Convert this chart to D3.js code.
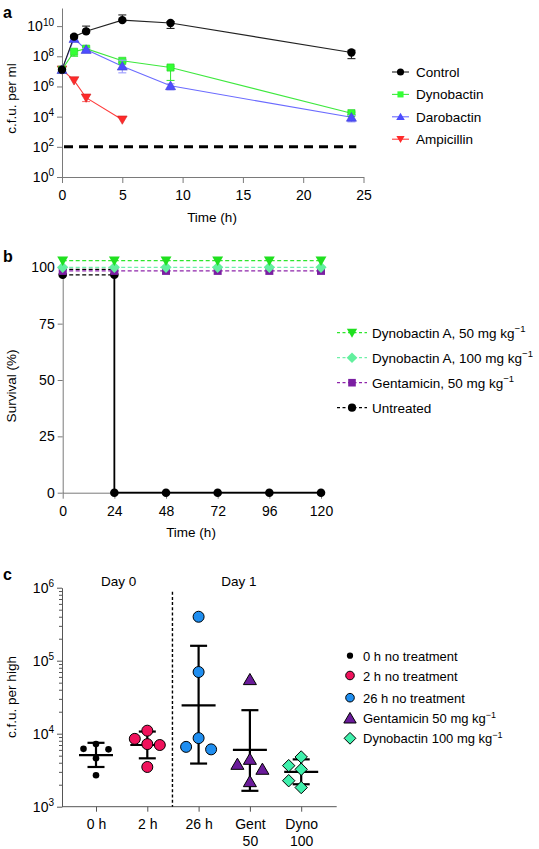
<!DOCTYPE html>
<html><head><meta charset="utf-8">
<script src="https://cdn.jsdelivr.net/npm/d3@7"></script>
<style>
html,body{margin:0;padding:0;background:#fff;}
svg{display:block;font-family:"Liberation Sans",Arial,Helvetica,sans-serif;}
</style></head>
<body>
<svg id="chart" width="539" height="849"></svg>
<script>
// ---------- Panel a data ----------
const aTimes = [0, 1, 2, 5, 9, 24];
const ampTimes = [0, 1, 2, 5];
const ctrlVals = [1.3e7, 2e9, 4.5e9, 2.5e10, 1.6e10, 1.8e8];
const ctrlLo   = [null, 1.6e9, 3.5e9, 2e10, 7e9, 7e7];
const ctrlHi   = [null, 2.5e9, 1e10, 5.5e10, 2e10, 2.5e8];
const dynoVals = [1.3e7, 2e8, 3.2e8, 5e7, 1.8e7, 1.7e4];
const dynoLo   = [null, 1e8, 2.5e8, 4e7, 2.5e6, 1.4e4];
const dynoHi   = [null, 2.6e8, 4e8, 6e7, 2.2e7, 2e4];
const daroVals = [1.3e7, 1.5e9, 2.8e8, 2.2e7, 1.1e6, 9e3];
const daroLo   = [null, 1.2e9, 2.3e8, 8e6, 6e5, 4.5e3];
const daroHi   = [null, 1.8e9, 3.3e8, 5.5e7, 1.5e6, 1.2e4];
const ampVals  = [1.3e7, 2.5e6, 1.8e5, 6.3e3];
const ampLo    = [null, null, 1e5, null];
const ampHi    = [null, null, 2.5e5, null];
const detectionLimit = 100;
const aYTicks = [1, 1e2, 1e4, 1e6, 1e8, 1e10];
const aXTicks = [0, 5, 10, 15, 20, 25];
const aNames = ["Control", "Dynobactin", "Darobactin", "Ampicillin"];

// ---------- Panel b data ----------
const bTimes = [0, 24, 48, 72, 96, 120];
const dyno50Surv  = [100, 100, 100, 100, 100, 100];
const dyno100Surv = [100, 100, 100, 100, 100, 100];
const gentSurv    = [100, 100, 100, 100, 100, 100];
const untreatedTimes = [0, 24, 24, 48, 72, 96, 120];
const untreatedSurv  = [100, 100, 0, 0, 0, 0, 0];
const bYTicks = [0, 25, 50, 75, 100];
const bXTicks = [0, 24, 48, 72, 96, 120];
const bNames = ["Dynobactin A, 50 mg kg", "Dynobactin A, 100 mg kg", "Gentamicin, 50 mg kg", "Untreated"];
const bSup = ["−1", "−1", "−1", ""];

// ---------- Panel c data ----------
const cCats = ["0 h", "2 h", "26 h", "Gent\n50", "Dyno\n100"];
const c0h   = [6200, 7200, 6100, 4600, 2700];
const c2h   = [8500, 11000, 7000, 7200, 3500];
const c26h  = [400000, 70000, 8700, 6100, 6600];
const cGent = [55000, 3800, 4450, 3250, 2200];
const cDyno = [4800, 3650, 3250, 2270, 1830];
const cMean = [5100, 7000, 24500, 6000, 3000];
const cLo   = [3500, 4600, 3900, 1650, 2030];
const cHi   = [7500, 10700, 160000, 21000, 4450];
const cYTicks = [1e3, 1e4, 1e5, 1e6];
const cNames = ["0 h no treatment", "2 h no treatment", "26 h no treatment", "Gentamicin 50 mg kg", "Dynobactin 100 mg kg"];
const cSup = ["", "", "", "−1", "−1"];

// ---------- helpers ----------
const svg = d3.select("#chart");
const FS = 13.5;   // legend / title text
const TS = 14;     // tick labels
const AX = "#7a7a7a";

function shape(type, s) {
  switch (type) {
    case "circle": return `M${-s},0a${s},${s} 0 1,0 ${2*s},0a${s},${s} 0 1,0 ${-2*s},0Z`;
    case "square": return `M${-s},${-s}h${2*s}v${2*s}h${-2*s}Z`;
    case "tri":    return `M0,${-s}L${s*1.05},${s*0.8}L${-s*1.05},${s*0.8}Z`;
    case "trid":   return `M0,${s}L${s*1.05},${-s*0.8}L${-s*1.05},${-s*0.8}Z`;
    case "diamond":return `M0,${-s}L${s},0L0,${s}L${-s},0Z`;
  }
}
function supText(sel, base, sup, supSize) {
  sel.text(base);
  if (sup !== "" && sup != null) sel.append("tspan").attr("dy", "-0.55em").attr("font-size", supSize || 9).text(sup);
}
function styleAxis(g, color, width) {
  g.attr("font-size", TS).attr("font-family", null);
  g.selectAll("path,line").attr("stroke", color).attr("stroke-width", width || 1);
  g.selectAll("text").attr("fill", "#000").attr("font-size", TS);
}

// ---------- Panel a ----------
const xa = d3.scaleLinear().domain([0, 25]).range([62, 363.5]);
const ya = d3.scaleLog().domain([1, Math.pow(10, 11.2)]).range([177, 8]);
const ga = svg.append("g");

ga.append("text").attr("x", 3).attr("y", 18).attr("font-size", 16).attr("font-weight", "bold").text("a");

const gaY = ga.append("g").attr("transform", `translate(${xa(0)},0)`)
  .call(d3.axisLeft(ya).tickValues(aYTicks).tickSize(5).tickSizeOuter(0).tickFormat(() => ""));
styleAxis(gaY, AX);
gaY.selectAll(".tick text").each(function (d) {
  supText(d3.select(this), "10", Math.round(Math.log10(d)), 10);
});
const gaX = ga.append("g").attr("transform", `translate(0,${ya(1)})`)
  .call(d3.axisBottom(xa).tickValues(aXTicks).tickSize(6).tickSizeOuter(0));
styleAxis(gaX, AX);
gaX.selectAll(".tick text").attr("dy", "1.0em");

ga.append("text").attr("transform", `translate(16,${(ya(1) + ya.range()[1]) / 2 + 6}) rotate(-90)`)
  .attr("text-anchor", "middle").attr("font-size", FS).text("c.f.u. per ml");
ga.append("text").attr("x", 212).attr("y", 222).attr("text-anchor", "middle").attr("font-size", FS).text("Time (h)");

ga.append("line").attr("x1", xa(0) + 2).attr("x2", xa(24.4)).attr("y1", ya(detectionLimit)).attr("y2", ya(detectionLimit))
  .attr("stroke", "#000").attr("stroke-width", 3).attr("stroke-dasharray", "9,6");

const aSeries = [
  { name: "Ampicillin", t: ampTimes, v: ampVals, lo: ampLo, hi: ampHi, line: "#ff3b3b", fill: "#ff2a2a", err: "#ff7070", m: "trid", s: 4.6 },
  { name: "Dynobactin", t: aTimes, v: dynoVals, lo: dynoLo, hi: dynoHi, line: "#3ee83e", fill: "#33ff33", err: "#3ee83e", m: "square", s: 3.6 },
  { name: "Darobactin", t: aTimes, v: daroVals, lo: daroLo, hi: daroHi, line: "#6b6bff", fill: "#4d4dff", err: "#9a9aff", m: "tri", s: 4.8 },
  { name: "Control", t: aTimes, v: ctrlVals, lo: ctrlLo, hi: ctrlHi, line: "#222", fill: "#000", err: "#222", m: "circle", s: 4.2 }
];
aSeries.forEach(S => {
  const pts = S.t.map((t, i) => ({ t, v: S.v[i] }));
  ga.append("path").datum(pts)
    .attr("d", d3.line().x(d => xa(d.t)).y(d => ya(d.v)))
    .attr("fill", "none").attr("stroke", S.line).attr("stroke-width", 1.1);
});
aSeries.forEach(S => {
  const pts = S.t.map((t, i) => ({ t, v: S.v[i], lo: S.lo[i], hi: S.hi[i] }));
  const eg = ga.append("g").attr("stroke", S.err).attr("stroke-width", 1.1);
  pts.filter(d => d.lo != null).forEach(d => {
    const x = xa(d.t);
    eg.append("line").attr("x1", x).attr("x2", x).attr("y1", ya(d.lo)).attr("y2", ya(d.hi));
    [d.lo, d.hi].forEach(v => eg.append("line").attr("x1", x - 4).attr("x2", x + 4).attr("y1", ya(v)).attr("y2", ya(v)));
  });
  ga.append("g").selectAll("path").data(pts).join("path")
    .attr("transform", d => `translate(${xa(d.t)},${ya(d.v)})`)
    .attr("d", shape(S.m, S.s)).attr("fill", S.fill)
    .attr("stroke", S.m === "circle" ? "none" : d3.color(S.fill).darker(0.6)).attr("stroke-width", 0.6);
});
aNames.forEach((n, i) => {
  const S = aSeries.find(s => s.name === n);
  const y = 72 + i * 22.4;
  const g = ga.append("g").attr("transform", `translate(0,${y})`);
  g.append("line").attr("x1", 392).attr("x2", 409).attr("stroke", S.line).attr("stroke-width", 1.1);
  g.append("path").attr("transform", "translate(400.5,0)").attr("d", shape(S.m, S.s * 0.85)).attr("fill", S.fill);
  g.append("text").attr("x", 416).attr("y", 5).attr("font-size", FS).text(n);
});

// ---------- Panel b ----------
const xb = d3.scaleLinear().domain([0, 120]).range([62.7, 321]);
const yb = d3.scaleLinear().domain([0, 100]).range([492.7, 267.3]);
const gb = svg.append("g");
gb.append("text").attr("x", 3).attr("y", 262).attr("font-size", 16).attr("font-weight", "bold").text("b");

const gbY = gb.append("g").attr("transform", `translate(${xb(0)},0)`)
  .call(d3.axisLeft(yb).tickValues(bYTicks).tickSize(5).tickSizeOuter(0));
styleAxis(gbY, AX);
const gbX = gb.append("g").attr("transform", `translate(0,${yb(0)})`)
  .call(d3.axisBottom(xb).tickValues(bXTicks).tickSize(6).tickSizeOuter(0));
styleAxis(gbX, AX);
gbX.selectAll(".tick text").attr("dy", "1.0em");
gb.append("text").attr("transform", `translate(16,386) rotate(-90)`).attr("text-anchor", "middle").attr("font-size", FS).text("Survival (%)");
gb.append("text").attr("x", 191).attr("y", 537).attr("text-anchor", "middle").attr("font-size", FS).text("Time (h)");

// nudge: small vertical display offset (px) on the shared 100 % level so overlapping curves stay visible
const bSeries = [
  { name: bNames[3], t: untreatedTimes, v: untreatedSurv, color: "#000", fill: "#000", m: "circle", s: 4.3, nudge: 7.5 },
  { name: bNames[2], t: bTimes, v: gentSurv, color: "#8e24aa", fill: "#7b1fa2", m: "square", s: 4.0, nudge: 3.6 },
  { name: bNames[1], t: bTimes, v: dyno100Surv, color: "#6ff0a8", fill: "#62f09e", m: "diamond", s: 5.6, nudge: 0 },
  { name: bNames[0], t: bTimes, v: dyno50Surv, color: "#2ee62e", fill: "#1fe01f", m: "trid", s: 5.2, nudge: -6.6 }
];
const byN = (S, v) => yb(v) + (v === 100 ? S.nudge : 0);
bSeries.forEach(S => {
  const pts = S.t.map((t, i) => ({ t, v: S.v[i] }));
  if (S.name === "Untreated") {
    const dropIdx = pts.findIndex(d => d.v === 0);
    gb.append("path").datum(pts.slice(0, dropIdx))
      .attr("d", d3.line().x(d => xb(d.t)).y(d => byN(S, d.v)))
      .attr("fill", "none").attr("stroke", "#000").attr("stroke-width", 1.2).attr("stroke-dasharray", "4,2.5");
    gb.append("path").datum(pts.slice(0, dropIdx)).attr("d", d3.line().x(d => xb(d.t)).y(d => yb(d.v) + 2))
      .attr("fill", "none").attr("stroke", "#000").attr("stroke-width", 1.2).attr("stroke-dasharray", "4,2.5");
    gb.append("path").datum(pts.slice(dropIdx - 1))
      .attr("d", d3.line().x(d => xb(d.t)).y(d => byN(S, d.v)))
      .attr("fill", "none").attr("stroke", "#000").attr("stroke-width", 1.8);
  } else {
    gb.append("path").datum(pts)
      .attr("d", d3.line().x(d => xb(d.t)).y(d => byN(S, d.v)))
      .attr("fill", "none").attr("stroke", S.color).attr("stroke-width", 1.3).attr("stroke-dasharray", "4,2.5");
  }
});
bSeries.forEach(S => {
  const pts = S.t.map((t, i) => ({ t, v: S.v[i] }));
  gb.append("g").selectAll("path").data(pts).join("path")
    .attr("transform", d => `translate(${xb(d.t)},${byN(S, d.v)})`)
    .attr("d", shape(S.m, S.s)).attr("fill", S.fill);
});
[3, 2, 1, 0].forEach((si, i) => {
  const S = bSeries[si];
  const y = 332.7 + i * 25;
  const g = gb.append("g").attr("transform", `translate(0,${y})`);
  g.append("line").attr("x1", 337).attr("x2", 367).attr("stroke", S.color).attr("stroke-width", 1.3).attr("stroke-dasharray", "3,2.5");
  g.append("path").attr("transform", "translate(352,0)").attr("d", shape(S.m, S.s * 0.95)).attr("fill", S.fill);
  const idx = bNames.indexOf(S.name);
  supText(g.append("text").attr("x", 372).attr("y", 5).attr("font-size", FS), S.name, bSup[idx], 9.5);
});

// ---------- Panel c ----------
const xc = d3.scalePoint().domain(cCats).range([96, 301.2]);
const yc = d3.scaleLog().domain([1e3, 1e6]).range([806.7, 587.7]);
const gc = svg.append("g");
gc.append("text").attr("x", 3).attr("y", 580).attr("font-size", 16).attr("font-weight", "bold").text("c");

const CAX = "#555";
const gcY = gc.append("g").attr("transform", `translate(62,0)`)
  .call(d3.axisLeft(yc).tickValues(cYTicks).tickSize(5).tickSizeOuter(0).tickFormat(() => ""));
styleAxis(gcY, CAX);
gcY.selectAll(".tick text").each(function (d) {
  supText(d3.select(this), "10", Math.round(Math.log10(d)), 10);
});
const minor = [];
cYTicks.slice(0, -1).forEach(b => { for (let k = 2; k <= 9; k++) minor.push(b * k); });
gc.append("g").attr("transform", `translate(62,0)`)
  .call(d3.axisLeft(yc).tickValues(minor).tickSize(3).tickSizeOuter(0).tickFormat(() => ""))
  .call(g => { g.select(".domain").remove(); styleAxis(g, CAX); });

const gcX = gc.append("g").attr("transform", `translate(0,${yc(1e3)})`)
  .call(d3.axisBottom(xc).tickSize(5).tickSizeOuter(0).tickFormat(() => ""));
gcX.select(".domain").remove();
styleAxis(gcX, CAX);
gc.append("line").attr("x1", 62).attr("x2", 336.7).attr("y1", yc(1e3)).attr("y2", yc(1e3)).attr("stroke", CAX);
gcX.selectAll(".tick").each(function (d) {
  const parts = d.split("\n");
  const t = d3.select(this).append("text").attr("fill", "#000").attr("font-size", TS).attr("text-anchor", "middle");
  parts.forEach((p, i) => t.append("tspan").attr("x", 0).attr("y", 22 + i * 17).text(p));
});
gc.append("text").attr("transform", `translate(16,697) rotate(-90)`).attr("text-anchor", "middle").attr("font-size", FS).text("c.f.u. per high");

const sepX = (xc(cCats[1]) + xc(cCats[2])) / 2 - 0.5;
gc.append("line").attr("x1", sepX).attr("x2", sepX).attr("y1", 591.7).attr("y2", yc(1e3))
  .attr("stroke", "#000").attr("stroke-width", 1.4).attr("stroke-dasharray", "3,2.2");
gc.append("text").attr("x", (xc(cCats[0]) + xc(cCats[1])) / 2 - 3).attr("y", 586).attr("text-anchor", "middle").attr("font-size", FS).text("Day 0");
gc.append("text").attr("x", xc(cCats[3]) - 11).attr("y", 586).attr("text-anchor", "middle").attr("font-size", FS).text("Day 1");

const cGroups = [
  { vals: c0h, fill: "#000", m: "circle", s: 3.3, stroke: "none" },
  { vals: c2h, fill: "#f0125c", m: "circle", s: 5.5, stroke: "#000" },
  { vals: c26h, fill: "#1f8ef0", m: "circle", s: 5.5, stroke: "#000" },
  { vals: cGent, fill: "#6a1b9a", m: "tri", s: 6.2, stroke: "#000" },
  { vals: cDyno, fill: "#3ff0ac", m: "diamond", s: 6.2, stroke: "#000" }
];
cCats.forEach((c, i) => {
  const x = xc(c);
  const g = gc.append("g").attr("stroke", "#000").attr("stroke-width", 2.2);
  g.append("line").attr("x1", x).attr("x2", x).attr("y1", yc(cLo[i])).attr("y2", yc(cHi[i]));
  g.append("line").attr("x1", x - 17).attr("x2", x + 17).attr("y1", yc(cMean[i])).attr("y2", yc(cMean[i]));
  [cLo[i], cHi[i]].forEach(v => g.append("line").attr("x1", x - 8.5).attr("x2", x + 8.5).attr("y1", yc(v)).attr("y2", yc(v)));
});
const STEP = 12.5, MIND = 12;
cGroups.forEach((G, gi) => {
  const cx = xc(cCats[gi]);
  const order = G.vals.map((v, i) => ({ v, i })).sort((a, b) => b.v - a.v);
  const placed = [];
  order.forEach(p => {
    const py = yc(p.v);
    const cands = [0, -STEP, STEP, -2 * STEP, 2 * STEP];
    let off = 0;
    for (const o of cands) {
      if (placed.every(q => Math.hypot(q.x - (cx + o), q.y - py) >= MIND)) { off = o; break; }
    }
    placed.push({ x: cx + off, y: py });
  });
  gc.append("g").selectAll("path").data(placed).join("path")
    .attr("transform", d => `translate(${d.x},${d.y})`)
    .attr("d", shape(G.m, G.s)).attr("fill", G.fill).attr("stroke", G.stroke).attr("stroke-width", 1);
});
const cLegY = [655.7, 675.5, 697.7, 718.3, 738.3];
cGroups.forEach((G, i) => {
  const g = gc.append("g").attr("transform", `translate(0,${cLegY[i]})`);
  g.append("path").attr("transform", "translate(350,0)").attr("d", shape(G.m, G.m === "circle" && G.s > 4 ? 4.3 : G.s * 0.95))
    .attr("fill", G.fill).attr("stroke", G.stroke).attr("stroke-width", 1);
  supText(g.append("text").attr("x", 363).attr("y", 5).attr("font-size", 13), cNames[i], cSup[i], 9);
});
</script>
</body></html>
